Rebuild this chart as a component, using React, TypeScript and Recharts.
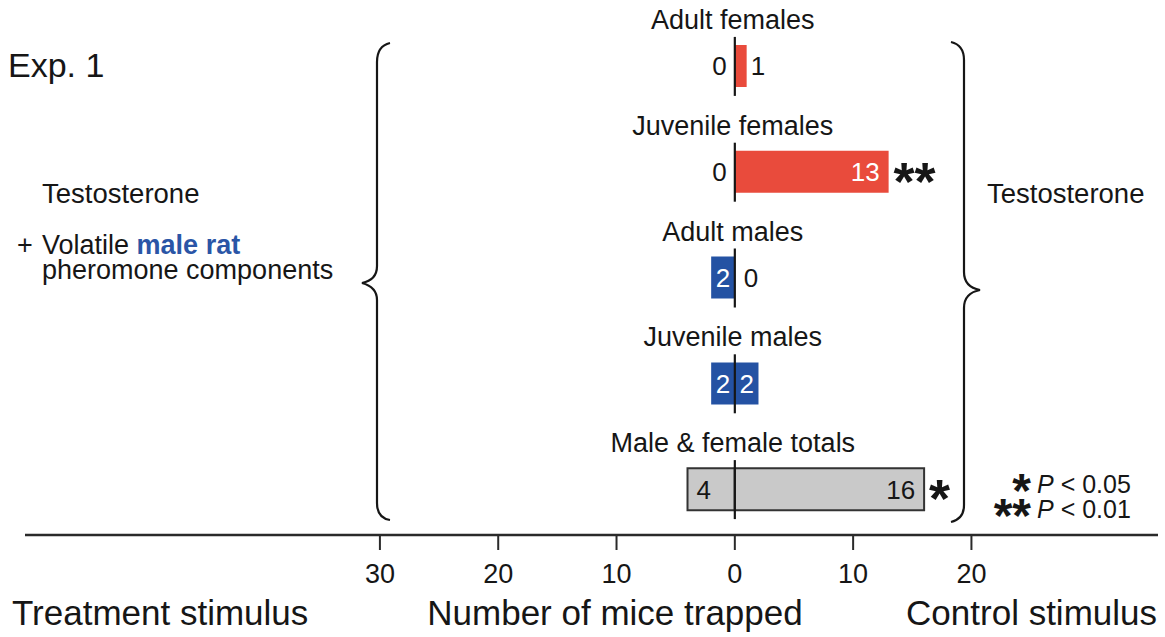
import React from 'react';
import {
  ComposedChart,
  Bar,
  XAxis,
  YAxis,
  Scatter,
  Cell,
  LabelList,
  Customized,
} from 'recharts';

// Trap counts per class of mouse: treatment side (left) and control side (right)
const categories = [
  'Adult females',
  'Juvenile females',
  'Adult males',
  'Juvenile males',
  'Male & female totals',
];
const groups = ['female', 'female', 'male', 'male', 'total'];
const treatmentCounts = [0, 0, 2, 2, 4];
const controlCounts = [1, 13, 0, 2, 16];
const significance = ['', '**', '', '', '*'];
const xTicks = [-30, -20, -10, 0, 10, 20];
const xDomain = [-60, 35.77];

const rows = categories.map((name, i) => ({
  name,
  treatmentSide: -treatmentCounts[i],
  controlSide: controlCounts[i],
  center: 0,
}));

const FILL: Record<string, string> = {
  female: '#e94b3c',
  male: '#2452a3',
  total: '#c9c9c9',
};
const INK = '#161616';
const FONT = '"Liberation Sans", Arial, Helvetica, sans-serif';
const VALUE_SIZE = 26;
const STAR_SIZE = 54;

// Places a count label relative to its bar: outside when the bar is too thin,
// centred when it just fits, and tucked against the outer end otherwise.
function makeValueLabel(side: 'treatment' | 'control') {
  return (props: any) => {
    const { viewBox, value } = props;
    if (!viewBox) return null;
    const idx = categories.indexOf(value);
    if (idx < 0) return null;
    const count = side === 'control' ? controlCounts[idx] : treatmentCounts[idx];
    if (count === 0) return null;
    const { x, y, width, height } = viewBox;
    const left = Math.min(x, x + width);
    const right = Math.max(x, x + width);
    const w = right - left;
    const cy = y + height / 2;
    const baseline = cy + VALUE_SIZE * 0.36;
    const insideColor = groups[idx] === 'total' ? INK : '#ffffff';
    const outer = side === 'control' ? right : left;
    const dir = side === 'control' ? 1 : -1;

    let tx: number;
    let anchor: 'start' | 'end' | 'middle';
    let color = INK;
    if (w < 20) {
      tx = outer + dir * 4;
      anchor = side === 'control' ? 'start' : 'end';
    } else if (w < 45) {
      tx = (left + right) / 2;
      anchor = 'middle';
      color = insideColor;
    } else {
      tx = outer - dir * 9;
      anchor = side === 'control' ? 'end' : 'start';
      color = insideColor;
    }

    const sig = side === 'control' ? significance[idx] : '';
    return (
      <g>
        <text
          x={tx}
          y={baseline}
          textAnchor={anchor}
          fontSize={VALUE_SIZE}
          fontFamily={FONT}
          fill={color}
        >
          {count}
        </text>
        {sig ? (
          <text
            x={right + 5}
            y={cy + STAR_SIZE * 0.52}
            textAnchor="start"
            fontSize={STAR_SIZE}
            fontWeight="bold"
            fontFamily={FONT}
            fill={INK}
          >
            {sig}
          </text>
        ) : null}
      </g>
    );
  };
}

// Zero line segment, group title and any zero counts for each category row
const CenterMark = (props: any) => {
  const { cx, cy, payload } = props;
  if (cx == null || cy == null) return null;
  const idx = categories.indexOf(payload.name);
  const baseline = cy + VALUE_SIZE * 0.36;
  return (
    <g fontFamily={FONT}>
      <line x1={cx} x2={cx} y1={cy - 29} y2={cy + 30} stroke={INK} strokeWidth={2.2} />
      <text x={cx - 2} y={cy - 37} textAnchor="middle" fontSize={27} fill={INK}>
        {payload.name}
      </text>
      {treatmentCounts[idx] === 0 ? (
        <text x={cx - 8} y={baseline} textAnchor="end" fontSize={VALUE_SIZE} fill={INK}>
          {treatmentCounts[idx]}
        </text>
      ) : null}
      {controlCounts[idx] === 0 ? (
        <text x={cx + 9} y={baseline} textAnchor="start" fontSize={VALUE_SIZE} fill={INK}>
          {controlCounts[idx]}
        </text>
      ) : null}
    </g>
  );
};

const Decorations = () => (
  <g fontFamily={FONT} fill={INK}>
    <text x={8} y={77} fontSize={34}>Exp. 1</text>

    <text x={42} y={203} fontSize={27.5}>Testosterone</text>
    <text x={17} y={254} fontSize={27}>+</text>
    <text x={42} y={254} fontSize={27}>
      Volatile{' '}
      <tspan fontWeight="bold" fill="#2a55a6">male rat</tspan>
    </text>
    <text x={42} y={279} fontSize={27}>pheromone components</text>

    <text x={987} y={203} fontSize={27.5}>Testosterone</text>

    <path
      d="M 390 43 Q 377 46 377 62 L 377 266 Q 377 280 362 283 Q 377 287 377 300 L 377 503 Q 377 518 390 520"
      fill="none"
      stroke={INK}
      strokeWidth={2.2}
    />
    <path
      d="M 951 42 Q 964 45 964 60 L 964 272 Q 964 287 980 290 Q 964 293 964 308 L 964 505 Q 964 519 951 522"
      fill="none"
      stroke={INK}
      strokeWidth={2.2}
    />

    <text x={1031} y={481 + 48 * 0.55} fontSize={48} fontWeight="bold" textAnchor="end">*</text>
    <text x={1037} y={493} fontSize={25}>
      <tspan fontStyle="italic">P</tspan> {'< 0.05'}
    </text>
    <text x={1031} y={506 + 48 * 0.55} fontSize={48} fontWeight="bold" textAnchor="end">**</text>
    <text x={1037} y={518} fontSize={25}>
      <tspan fontStyle="italic">P</tspan> {'< 0.01'}
    </text>

    <text x={12} y={625} fontSize={35}>Treatment stimulus</text>
    <text x={615} y={625} fontSize={35} textAnchor="middle">Number of mice trapped</text>
    <text x={1157} y={625} fontSize={35} textAnchor="end">Control stimulus</text>
  </g>
);

export default function App() {
  return (
    <div style={{ position: 'absolute', left: 0, top: 0, width: 1165, height: 637, background: '#fff' }}>
      <ComposedChart
        width={1165}
        height={637}
        data={rows}
        layout="vertical"
        stackOffset="sign"
        margin={{ top: 13, right: 7, left: 25, bottom: 42 }}
      >
        <XAxis
          type="number"
          domain={xDomain}
          allowDataOverflow
          ticks={xTicks}
          interval={0}
          tickFormatter={(v: number) => String(Math.abs(v))}
          tickSize={15}
          tickMargin={14}
          height={60}
          axisLine={{ stroke: '#2a2a2a', strokeWidth: 2.6 }}
          tickLine={{ stroke: '#2a2a2a', strokeWidth: 2 }}
          tick={{ fontSize: 27, fill: INK, fontFamily: FONT }}
        />
        <YAxis type="category" dataKey="name" hide padding={{ top: 0, bottom: -7 }} />
        <Bar dataKey="treatmentSide" stackId="trap" barSize={42} isAnimationActive={false}>
          {rows.map((r, i) => (
            <Cell
              key={`t-${r.name}`}
              fill={FILL[groups[i]]}
              stroke={groups[i] === 'total' ? '#333' : 'none'}
              strokeWidth={2}
            />
          ))}
          <LabelList dataKey="name" content={makeValueLabel('treatment')} />
        </Bar>
        <Bar dataKey="controlSide" stackId="trap" barSize={42} isAnimationActive={false}>
          {rows.map((r, i) => (
            <Cell
              key={`c-${r.name}`}
              fill={FILL[groups[i]]}
              stroke={groups[i] === 'total' ? '#333' : 'none'}
              strokeWidth={2}
            />
          ))}
          <LabelList dataKey="name" content={makeValueLabel('control')} />
        </Bar>
        <Scatter dataKey="center" shape={CenterMark} isAnimationActive={false} />
        <Customized component={<Decorations />} />
      </ComposedChart>
    </div>
  );
}
